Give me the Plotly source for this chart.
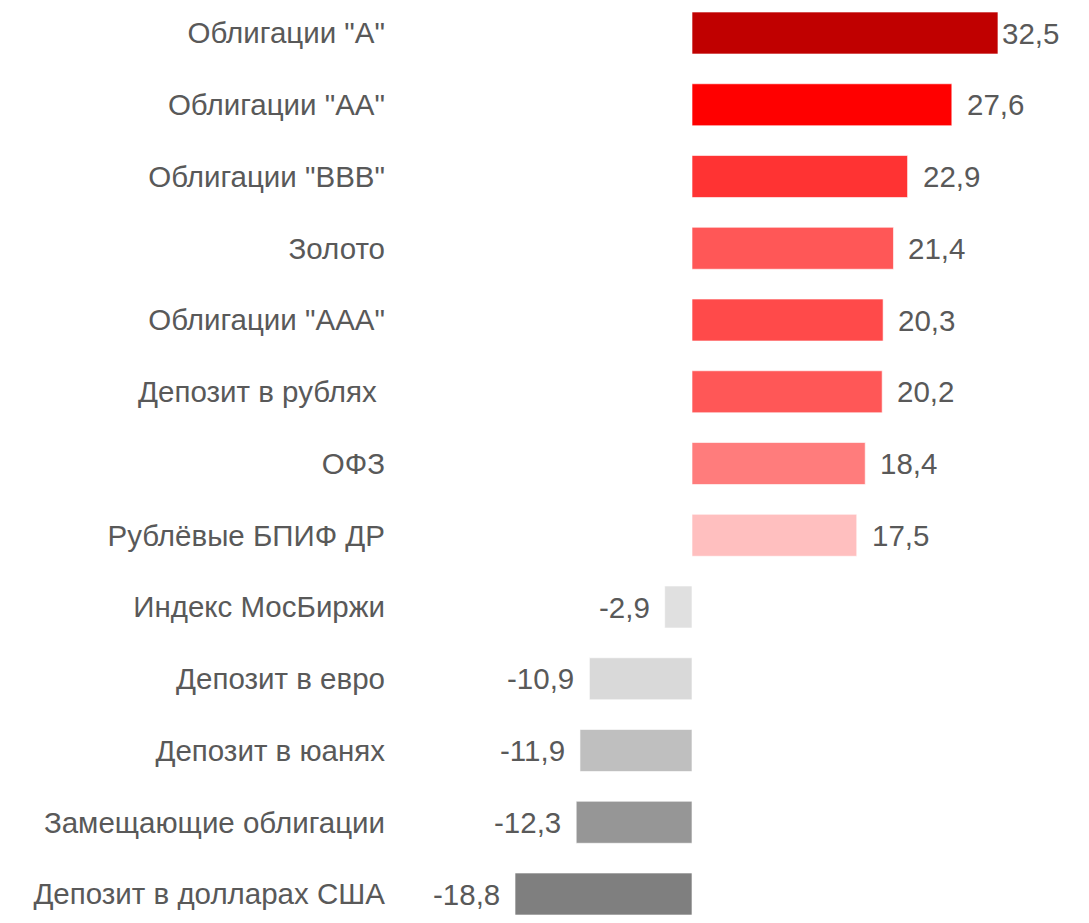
import plotly.graph_objects as go

categories = [
    'Облигации "А"',
    'Облигации "АА"',
    'Облигации "ВВВ"',
    'Золото',
    'Облигации "ААА"',
    'Депозит в рублях\u00a0',
    'ОФЗ',
    'Рублёвые БПИФ ДР',
    'Индекс МосБиржи',
    'Депозит в евро',
    'Депозит в юанях',
    'Замещающие облигации',
    'Депозит в долларах США',
]
values = [32.5, 27.6, 22.9, 21.4, 20.3, 20.2, 18.4, 17.5, -2.9, -10.9, -11.9, -12.3, -18.8]
value_labels = ["32,5", "27,6", "22,9", "21,4", "20,3", "20,2", "18,4", "17,5",
                "-2,9", "-10,9", "-11,9", "-12,3", "-18,8"]
colors = ["#C00000", "#FF0000", "#FF3333", "#FF5757", "#FF4A4A", "#FF5757", "#FF7C7C",
          "#FFBFBF", "#E0E0E0", "#D9D9D9", "#BFBFBF", "#969696", "#7F7F7F"]
label_gap = [2, 13, 13, 13, 13, 13, 13, 13, 13, 13, 13, 13, 13]

FONT = "Liberation Sans, Arial, sans-serif"
TXT = "#595959"
FS = 29.5

fig = go.Figure()
fig.add_trace(go.Bar(
    y=categories, x=values, orientation="h",
    marker=dict(color=colors, line=dict(width=1, color="rgba(255,255,255,0.6)")),
    width=0.585, hoverinfo="skip",
))

for c, v, t, g in zip(categories, values, value_labels, label_gap):
    fig.add_annotation(
        x=v, y=c, text=t, showarrow=False,
        xanchor="left" if v >= 0 else "right",
        xshift=g if v >= 0 else -g,
        font=dict(family=FONT, size=FS, color=TXT),
    )

fig.update_layout(
    width=1089, height=923,
    margin=dict(l=390, r=0, t=0, b=0),
    plot_bgcolor="white", paper_bgcolor="white",
    showlegend=False,
    xaxis=dict(range=[-32.08, 42.17], visible=False, showgrid=False, zeroline=False),
    yaxis=dict(categoryorder="array", categoryarray=categories,
               range=[12.404, -0.46], showgrid=False, zeroline=False, showline=False,
               ticks="", ticklabelstandoff=4,
               tickfont=dict(family=FONT, size=FS, color=TXT)),
)

fig.write_html("out.html", config={"displayModeBar": False},
               post_script="document.body.style.margin='0';")
